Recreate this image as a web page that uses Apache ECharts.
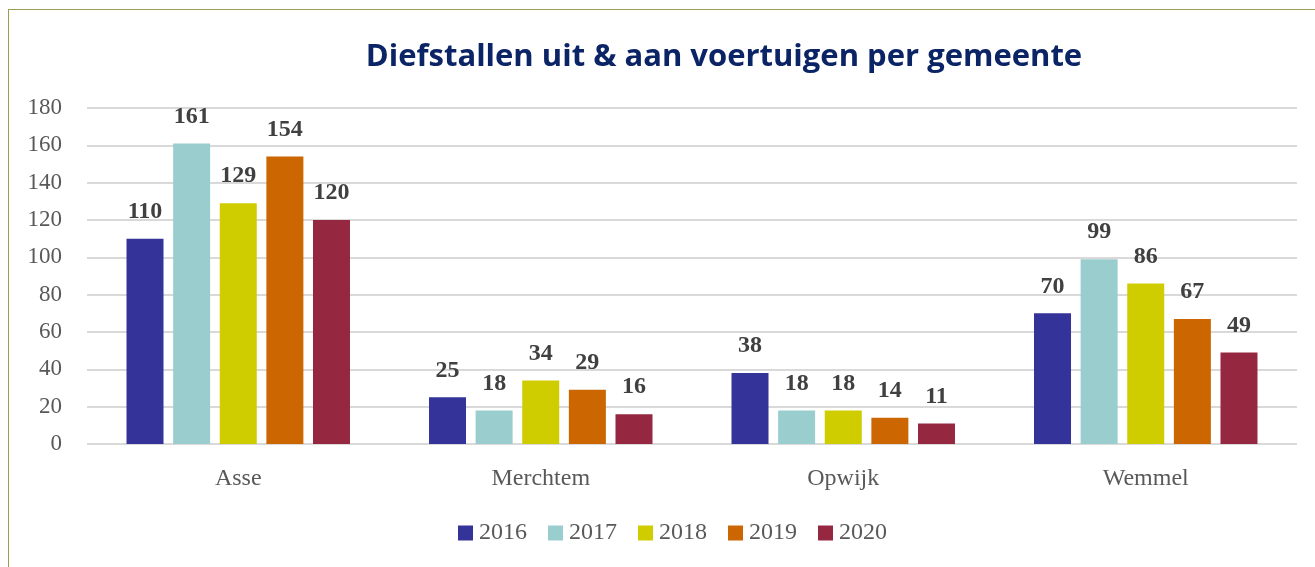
<!DOCTYPE html>
<html>
<head>
<meta charset="utf-8">
<script src="https://cdn.jsdelivr.net/npm/echarts@6/dist/echarts.min.js"></script>
<style>
  html, body { margin: 0; padding: 0; background: #fff; }
  #frame { position: absolute; left: 8px; top: 9px; width: 1320px; height: 570px; border: 1px solid #9c9c55; box-sizing: border-box; }
  #chart { position: absolute; left: 0; top: 0; width: 1315px; height: 567px; }
</style>
</head>
<body>
<div id="frame"></div>
<div id="chart"></div>
<script>
// gemeenten en jaren
const gemeenten = ['Asse', 'Merchtem', 'Opwijk', 'Wemmel'];
const jaren = ['2016', '2017', '2018', '2019', '2020'];
const kleuren = ['#333399', '#9ACDCE', '#CFCD00', '#CC6600', '#952840'];
// aantallen per jaar (Asse, Merchtem, Opwijk, Wemmel)
const data2016 = [110, 25, 38, 70];
const data2017 = [161, 18, 18, 99];
const data2018 = [129, 34, 18, 86];
const data2019 = [154, 29, 14, 67];
const data2020 = [120, 16, 11, 49];
const reeksen = [data2016, data2017, data2018, data2019, data2020];

const serif = '"Liberation Serif", "DejaVu Serif", serif';

let chart = echarts.init(document.getElementById('chart'));
let option = {
  animation: false,
  color: kleuren,
  title: {
    text: 'Diefstallen uit & aan voertuigen per gemeente',
    left: 719,
    textAlign: 'center',
    top: 37,
    textStyle: {
      fontFamily: '"Open Sans", sans-serif',
      fontWeight: 'bold',
      fontSize: 31,
      color: '#0B2466'
    }
  },
  grid: {
    left: 87,
    right: 18,
    top: 108,
    bottom: 123,
    containLabel: false
  },
  legend: {
    bottom: 17,
    left: 453,
    icon: 'rect',
    itemWidth: 15,
    itemHeight: 15,
    itemGap: 21,
    data: jaren,
    textStyle: {
      fontFamily: serif,
      fontSize: 24,
      color: '#595959',
      padding: [0, 0, 0, 1]
    }
  },
  xAxis: {
    type: 'category',
    data: gemeenten,
    axisLine: { show: false },
    axisTick: { show: false },
    axisLabel: {
      margin: 23,
      fontFamily: serif,
      fontSize: 24,
      color: '#595959'
    }
  },
  yAxis: {
    type: 'value',
    min: 0,
    max: 180,
    interval: 20,
    axisLine: { show: false },
    axisTick: { show: false },
    axisLabel: {
      margin: 25,
      fontFamily: serif,
      fontSize: 23,
      color: '#595959'
    },
    splitLine: {
      lineStyle: { color: '#d9d9d9', width: 2 }
    }
  },
  series: jaren.map((jaar, i) => {
    return {
      name: jaar,
      type: 'bar',
      data: reeksen[i],
      barWidth: 37,
      barGap: '26%',
      label: {
        show: true,
        position: 'top',
        distance: 15,
        fontFamily: serif,
        fontWeight: 'bold',
        fontSize: 24,
        color: '#404040'
      }
    };
  })
};
chart.setOption(option);
</script>
</body>
</html>
